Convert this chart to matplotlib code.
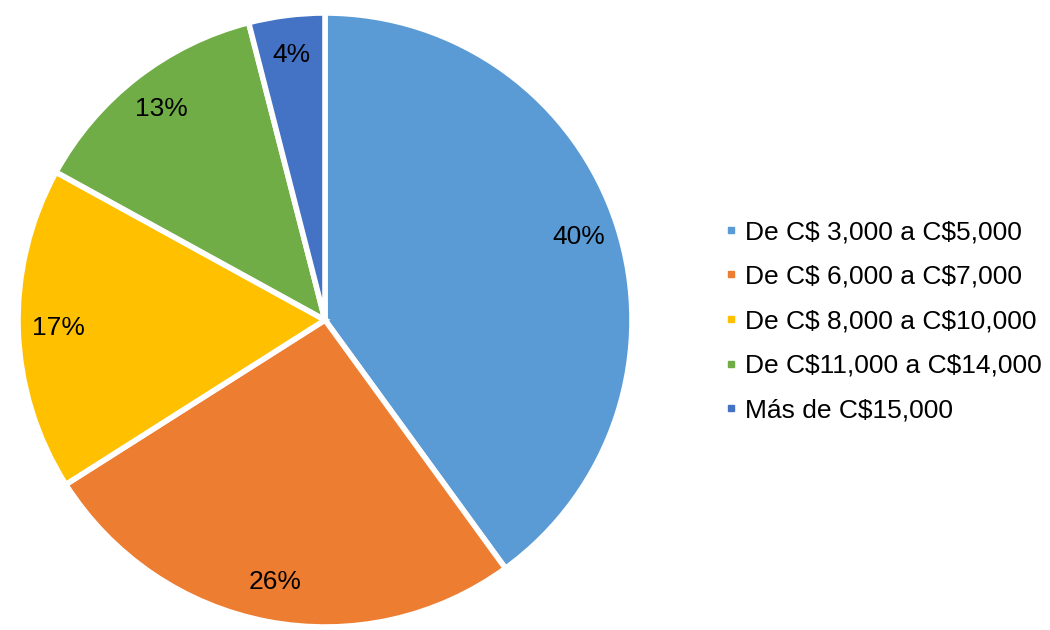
import matplotlib
matplotlib.use("Agg")
import matplotlib.pyplot as plt
from matplotlib.lines import Line2D

plt.rcParams['font.family'] = ['Liberation Sans', 'DejaVu Sans']
plt.rcParams['text.parse_math'] = False

categories = ["De C$ 3,000 a C$5,000", "De C$ 6,000 a C$7,000", "De C$ 8,000 a C$10,000",
              "De C$11,000 a C$14,000", "Más de C$15,000"]
values = [40, 26, 17, 13, 4]
colors = ["#5B9BD5", "#ED7D31", "#FFC000", "#70AD47", "#4472C4"]

fig = plt.figure(figsize=(10.5, 6.3), dpi=100)
cx, cy, r = 325, 320, 307
ax = fig.add_axes([(cx - r) / 1050, (630 - cy - r) / 630, 2 * r / 1050, 2 * r / 630])
wedges, texts, autotexts = ax.pie(values, colors=colors, startangle=90, counterclock=False,
                                  autopct=lambda p: f"{p:.0f}%", pctdistance=0.87,
                                  wedgeprops=dict(edgecolor="white", linewidth=4),
                                  textprops=dict(fontsize=19, color="black"))
ax.set_xlim(-1, 1)
ax.set_ylim(-1, 1)
ax.set_aspect('equal')

handles = [Line2D([], [], marker='s', linestyle='none', markersize=5, color=c) for c in colors]
fig.legend(handles, categories, loc='center left', bbox_to_anchor=(0.669, 0.49),
           frameon=False, fontsize=19, handlelength=0.4, handletextpad=0.3,
           labelspacing=0.78)

fig.savefig("out.png", dpi=100)
